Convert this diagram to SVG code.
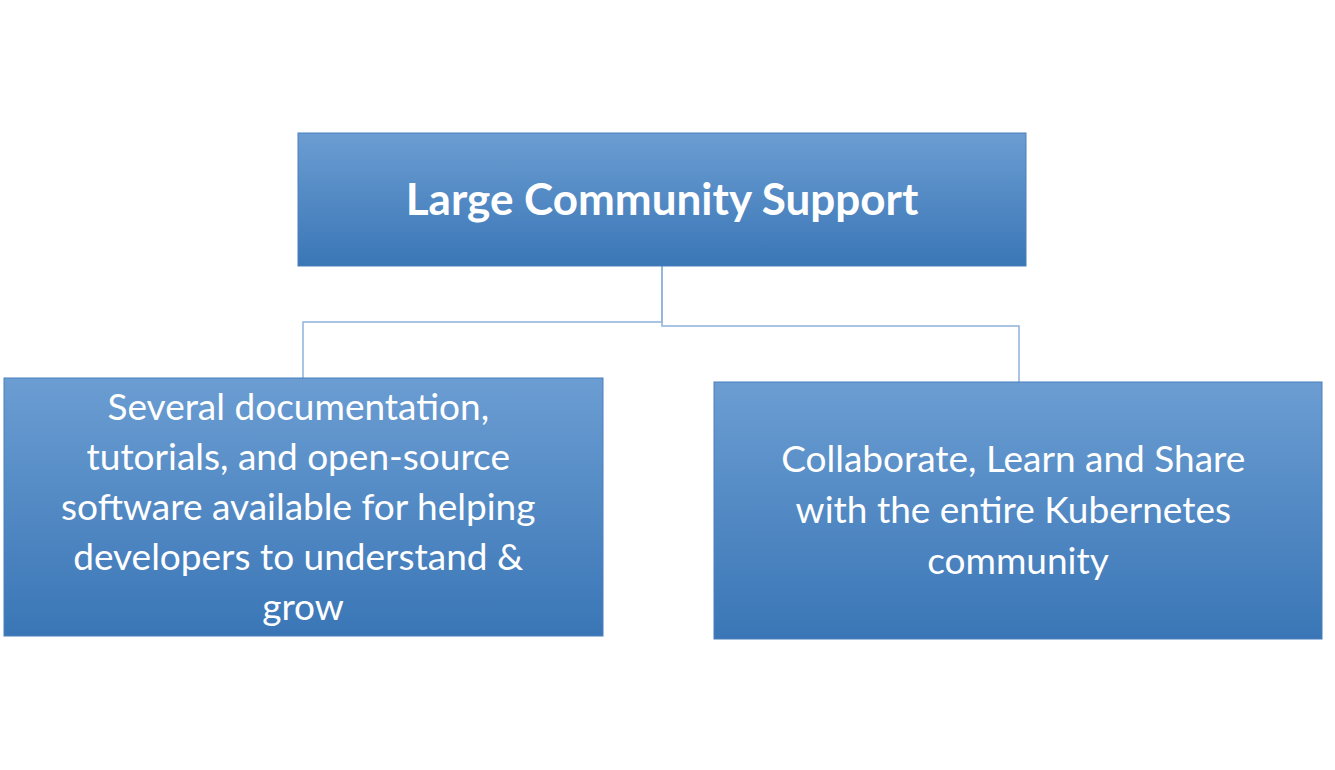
<svg xmlns="http://www.w3.org/2000/svg" width="1335" height="770" viewBox="0 0 1335 770">
<defs>
<linearGradient id="g" x1="0" y1="0" x2="0" y2="1">
<stop offset="0" stop-color="#6b9dd2"/><stop offset="1" stop-color="#3a76b6"/>
</linearGradient>
<style>
.box{fill:url(#g);stroke:#4a80bd;stroke-width:1}
.t{font-family:Lato,"Open Sans",sans-serif;fill:#fff;text-anchor:middle}
.c{fill:none;stroke:#8fb3da;stroke-width:1.5}
</style>
</defs>
<rect width="1335" height="770" fill="#fff"/>
<g id="connectors">
<path class="c" d="M662 266V322H303V378"/>
<path class="c" d="M662 266V326H1019V382"/>
</g>
<g id="top">
<rect class="box" x="298" y="133" width="728" height="133"/>
<text class="t" x="662" y="215" font-size="44" font-weight="bold">Large Community Support</text>
</g>
<g id="left">
<rect class="box" x="4" y="378" width="599" height="258"/>
<text class="t" font-size="37">
<tspan x="303" y="420">Several documentation,</tspan>
<tspan x="303" y="470">tutorials, and open-source</tspan>
<tspan x="303" y="520">software available for helping</tspan>
<tspan x="303" y="570">developers to understand &amp;</tspan>
<tspan x="303" y="620">grow</tspan>
</text>
</g>
<g id="right">
<rect class="box" x="714" y="382" width="608" height="257"/>
<text class="t" font-size="37">
<tspan x="1018" y="472">Collaborate, Learn and Share</tspan>
<tspan x="1018" y="523">with the entire Kubernetes</tspan>
<tspan x="1018" y="574">community</tspan>
</text>
</g>
</svg>
